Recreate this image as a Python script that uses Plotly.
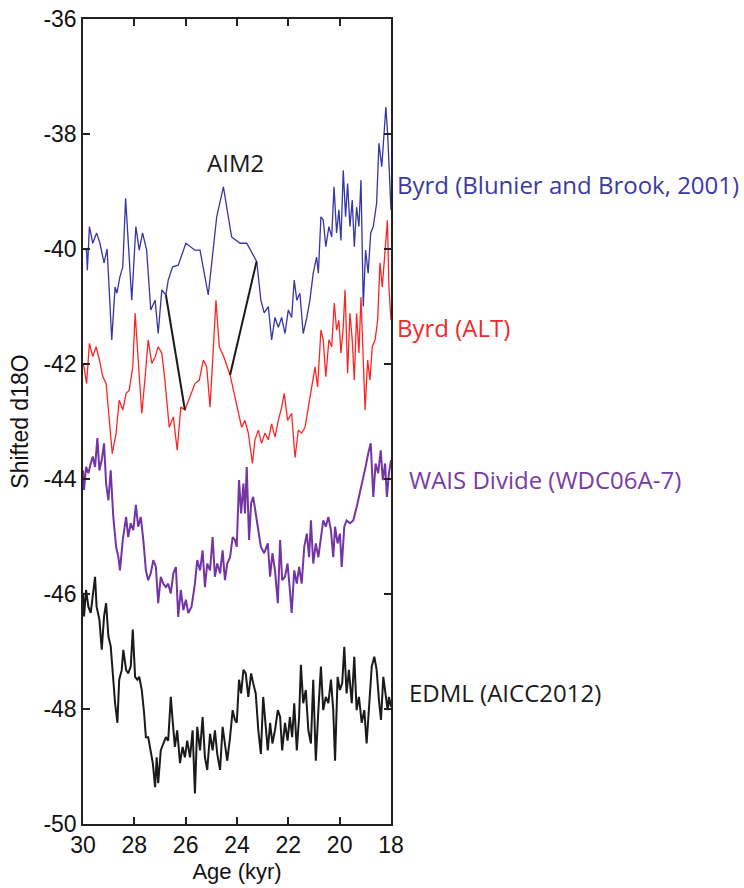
import plotly.graph_objects as go

# ---------------- data (age in kyr, shifted d18O) ----------------
blue_age = [30.00, 29.86, 29.83, 29.75, 29.62, 29.47, 29.34, 29.18, 29.06, 28.99, 28.88, 28.75, 28.68, 28.56,
            28.45, 28.34, 28.24, 28.10, 27.94, 27.81, 27.68, 27.52, 27.36, 27.19, 27.07, 26.93, 26.77, 26.68,
            26.51, 26.29, 25.99, 25.64, 25.44, 25.12, 24.79, 24.53, 24.21, 23.88, 23.62, 23.43, 23.23, 23.07,
            22.94, 22.78, 22.65, 22.52, 22.39, 22.26, 22.13, 22.00, 21.87, 21.77, 21.67, 21.55, 21.42, 21.28,
            21.16, 21.03, 20.90, 20.83, 20.73, 20.64, 20.54, 20.42, 20.31, 20.22, 20.12, 20.03, 19.95, 19.86,
            19.77, 19.69, 19.60, 19.51, 19.43, 19.34, 19.25, 19.17, 19.08, 18.99, 18.89, 18.79, 18.69, 18.56,
            18.47, 18.36, 18.27, 18.20, 18.13, 18.04, 18.00]
blue_val = [-40.0, -40.02, -40.37, -39.61, -39.9, -39.72, -39.9, -40.24, -40.0, -40.66, -41.58, -40.66, -40.77,
            -40.48, -40.31, -39.12, -39.9, -40.89, -39.61, -40.02, -39.72, -40.02, -41.06, -40.89, -41.47,
            -40.71, -40.8, -40.54, -40.31, -40.28, -39.9, -40.02, -40.02, -40.8, -39.44, -38.92, -39.79, -39.9,
            -39.9, -40.07, -40.22, -40.89, -41.11, -41.0, -41.58, -41.19, -41.36, -41.19, -41.47, -41.06,
            -41.19, -40.54, -40.89, -40.77, -41.47, -41.19, -40.89, -40.42, -40.14, -40.42, -39.44, -39.5,
            -39.96, -39.61, -39.79, -38.92, -39.72, -39.32, -39.85, -38.63, -39.44, -38.86, -39.61, -39.15,
            -39.96, -39.27, -39.61, -38.8, -41.0, -40.02, -40.42, -39.72, -39.61, -39.2, -38.16, -38.57,
            -37.88, -37.53, -38.0, -39.15, -39.32]

red_age = [30.00, 29.96, 29.86, 29.75, 29.62, 29.49, 29.36, 29.23, 29.10, 28.98, 28.86, 28.71, 28.59, 28.45,
           28.32, 28.20, 28.06, 27.97, 27.85, 27.71, 27.58, 27.46, 27.32, 27.19, 27.07, 26.93, 26.81, 26.64,
           26.48, 26.33, 26.19, 26.03, 25.83, 25.64, 25.47, 25.31, 25.18, 25.05, 24.92, 24.82, 24.69, 24.51,
           24.27, 24.08, 23.95, 23.82, 23.69, 23.56, 23.40, 23.30, 23.17, 23.04, 22.91, 22.78, 22.65, 22.52,
           22.39, 22.26, 22.16, 22.03, 21.87, 21.74, 21.61, 21.48, 21.35, 21.22, 21.09, 20.96, 20.86, 20.73,
           20.64, 20.54, 20.42, 20.31, 20.21, 20.12, 20.03, 19.95, 19.86, 19.79, 19.69, 19.60, 19.51, 19.43,
           19.34, 19.25, 19.17, 19.08, 19.01, 18.91, 18.82, 18.73, 18.62, 18.52, 18.43, 18.34, 18.23, 18.14,
           18.08, 18.00]
red_val = [-42.0, -42.05, -42.34, -41.64, -41.87, -41.7, -41.93, -42.22, -42.34, -42.98, -43.56, -43.2, -42.63,
           -42.8, -42.51, -42.46, -42.05, -41.12, -41.99, -42.86, -42.23, -41.58, -41.99, -41.88, -41.7, -41.81,
           -42.28, -43.1, -42.92, -43.5, -42.75, -42.8, -42.57, -42.34, -42.28, -41.93, -42.05, -42.75, -41.7,
           -40.89, -41.7, -41.88, -42.19, -42.6, -42.86, -43.1, -42.98, -43.2, -43.73, -43.32, -43.15, -43.38,
           -43.2, -43.32, -43.04, -43.27, -42.98, -42.75, -42.51, -42.98, -42.86, -43.63, -43.15, -43.2, -43.1,
           -42.75, -42.34, -42.05, -42.4, -41.41, -41.58, -42.22, -41.58, -41.7, -40.94, -41.41, -41.24,
           -41.81, -41.35, -40.71, -42.16, -41.12, -41.58, -42.28, -41.12, -41.81, -40.84, -41.93, -42.8,
           -41.93, -42.28, -41.7, -41.58, -41.24, -40.24, -40.66, -40.07, -39.5, -40.66, -41.24]

wais_age = [30.00, 29.96, 29.88, 29.79, 29.70, 29.62, 29.53, 29.44, 29.36, 29.27, 29.18, 29.10, 29.01, 28.92,
            28.82, 28.71, 28.62, 28.56, 28.45, 28.32, 28.24, 28.14, 28.04, 27.94, 27.85, 27.75, 27.65, 27.55,
            27.46, 27.36, 27.26, 27.16, 27.07, 26.97, 26.87, 26.77, 26.68, 26.58, 26.48, 26.38, 26.29, 26.19,
            26.09, 25.99, 25.90, 25.77, 25.64, 25.55, 25.44, 25.34, 25.25, 25.16, 25.05, 24.95, 24.86, 24.77,
            24.66, 24.56, 24.47, 24.38, 24.27, 24.17, 24.08, 24.01, 23.92, 23.84, 23.75, 23.69, 23.62, 23.53,
            23.45, 23.37, 23.27, 23.17, 23.07, 22.94, 22.80, 22.71, 22.62, 22.52, 22.41, 22.32, 22.24, 22.13,
            22.03, 21.94, 21.87, 21.77, 21.67, 21.58, 21.48, 21.38, 21.28, 21.19, 21.12, 21.03, 20.93, 20.83,
            20.73, 20.64, 20.54, 20.44, 20.34, 20.25, 20.18, 20.08, 19.99, 19.92, 19.82, 19.73, 19.60, 19.47,
            19.34, 19.21, 19.08, 18.99, 18.89, 18.79, 18.69, 18.60, 18.50, 18.40, 18.32, 18.23, 18.16, 18.08,
            18.00]
wais_val = [-43.85, -44.19, -43.79, -43.9, -43.73, -43.61, -43.79, -43.29, -43.85, -43.67, -43.38, -44.08,
            -44.37, -43.85, -44.66, -45.18, -45.36, -45.59, -45.06, -44.66, -45.01, -44.77, -44.89, -44.45,
            -44.83, -44.66, -45.06, -45.59, -45.76, -45.64, -45.41, -45.53, -46.16, -45.7, -45.82, -45.88,
            -45.82, -45.99, -45.64, -45.53, -46.4, -45.93, -46.28, -46.1, -46.33, -46.22, -45.82, -45.41,
            -45.59, -45.24, -45.88, -45.47, -45.59, -45.01, -45.7, -45.47, -45.64, -45.24, -45.76, -45.47,
            -45.36, -45.01, -45.06, -45.18, -44.02, -44.6, -44.08, -44.6, -43.79, -45.06, -44.42, -44.31,
            -44.6, -44.89, -45.18, -45.29, -45.12, -45.7, -45.29, -45.59, -46.16, -45.06, -45.76, -45.7,
            -45.47, -45.93, -46.33, -45.59, -45.82, -45.53, -45.82, -45.18, -44.95, -45.36, -44.72, -45.47,
            -45.12, -45.36, -45.06, -44.72, -44.83, -44.66, -44.89, -45.36, -44.83, -45.12, -44.95, -45.53,
            -44.83, -44.72, -44.77, -44.72, -44.49, -44.25, -43.97, -43.79, -43.56, -43.38, -44.31, -43.73,
            -43.9, -43.5, -44.02, -43.73, -44.31, -43.9, -43.67]

edml_age = [30.00, 29.96, 29.88, 29.79, 29.70, 29.62, 29.53, 29.47, 29.36, 29.27, 29.18, 29.10, 29.01, 28.92,
            28.82, 28.75, 28.66, 28.59, 28.49, 28.43, 28.32, 28.24, 28.14, 28.06, 27.97, 27.88, 27.81, 27.71,
            27.62, 27.55, 27.46, 27.36, 27.28, 27.19, 27.13, 27.07, 26.97, 26.87, 26.77, 26.68, 26.58, 26.51,
            26.42, 26.33, 26.22, 26.12, 26.03, 25.94, 25.83, 25.73, 25.64, 25.55, 25.44, 25.34, 25.25, 25.16,
            25.05, 24.95, 24.86, 24.77, 24.66, 24.56, 24.47, 24.38, 24.27, 24.17, 24.08, 24.01, 23.92, 23.84,
            23.75, 23.66, 23.56, 23.45, 23.37, 23.27, 23.17, 23.07, 22.98, 22.88, 22.80, 22.71, 22.62, 22.52,
            22.41, 22.32, 22.24, 22.13, 22.03, 21.94, 21.85, 21.77, 21.67, 21.58, 21.51, 21.42, 21.32, 21.22,
            21.12, 21.03, 20.93, 20.83, 20.73, 20.64, 20.54, 20.44, 20.34, 20.25, 20.18, 20.08, 19.99, 19.90,
            19.82, 19.73, 19.64, 19.53, 19.43, 19.34, 19.25, 19.14, 19.04, 18.95, 18.86, 18.75, 18.65, 18.56,
            18.47, 18.39, 18.30, 18.21, 18.13, 18.08, 18.00]
edml_val = [-45.98, -46.39, -45.93, -46.22, -46.33, -45.98, -45.7, -46.22, -46.45, -46.97, -46.39, -46.16,
            -46.74, -46.91, -47.61, -47.9, -48.24, -47.49, -47.32, -46.97, -47.32, -47.38, -47.26, -46.62,
            -47.44, -47.49, -47.44, -47.67, -48.07, -48.49, -48.49, -48.72, -48.94, -49.36, -48.84, -49.29,
            -48.72, -48.6, -48.49, -48.55, -47.79, -48.19, -48.66, -48.37, -48.94, -48.66, -48.84, -48.55,
            -48.84, -48.37, -49.47, -48.31, -48.72, -48.14, -48.84, -49.06, -48.43, -48.72, -48.37, -48.78,
            -49.06, -48.31, -48.66, -48.9, -48.49, -48.02, -48.19, -48.24, -47.49, -47.73, -47.32, -47.38,
            -47.79, -47.38, -47.55, -47.73, -48.37, -48.78, -47.79, -48.37, -48.72, -48.24, -48.6, -48.37,
            -48.02, -48.14, -48.72, -48.24, -48.55, -48.14, -48.49, -47.9, -48.72, -48.14, -47.23, -47.9,
            -47.67, -48.37, -48.6, -47.49, -48.9, -48.02, -47.26, -48.02, -47.79, -47.9, -47.49, -48.02,
            -48.9, -47.44, -47.67, -47.55, -46.92, -47.73, -47.32, -47.9, -47.09, -48.02, -47.79, -48.24,
            -48.02, -48.6, -47.9, -47.26, -47.09, -47.32, -47.84, -48.19, -47.44, -47.79, -48.02, -47.79,
            -47.96]

tie1_age = [26.77, 26.03]
tie1_val = [-40.8, -42.8]
tie2_age = [24.27, 23.24]
tie2_val = [-42.19, -40.22]

x_ticks = [30, 28, 26, 24, 22, 20, 18]
y_ticks = [-50, -48, -46, -44, -42, -40, -38, -36]

labels = [
    ("Byrd (Blunier and Brook, 2001)", 1.013, -38.87, "#3a3aa2"),
    ("Byrd (ALT)", 1.013, -41.36, "#ee2a2a"),
    ("WAIS Divide (WDC06A-7)", 1.052, -44.0, "#7a3aa6"),
    ("EDML (AICC2012)", 1.052, -47.72, "#1a1a1a"),
]

BLUE = "#3535a5"
RED = "#ff2424"
PURPLE = "#7434a6"
BLACK = "#1a1a1a"

fig = go.Figure()
fig.add_trace(go.Scatter(x=blue_age, y=blue_val, mode="lines", line=dict(color=BLUE, width=1.3)))
fig.add_trace(go.Scatter(x=red_age, y=red_val, mode="lines", line=dict(color=RED, width=1.3)))
fig.add_trace(go.Scatter(x=wais_age, y=wais_val, mode="lines", line=dict(color=PURPLE, width=2.0)))
fig.add_trace(go.Scatter(x=edml_age, y=edml_val, mode="lines", line=dict(color=BLACK, width=2.0)))
fig.add_trace(go.Scatter(x=tie1_age, y=tie1_val, mode="lines", line=dict(color=BLACK, width=2)))
fig.add_trace(go.Scatter(x=tie2_age, y=tie2_val, mode="lines", line=dict(color=BLACK, width=2)))

for txt, xp, yv, col in labels:
    fig.add_annotation(x=xp, y=yv, xref="paper", yref="y", text=txt, showarrow=False,
                       xanchor="left", yanchor="middle",
                       font=dict(family="Open Sans", size=24, color=col))

fig.add_annotation(x=24.04, y=-38.49, xref="x", yref="y", text="AIM2", showarrow=False,
                   xanchor="center", yanchor="middle",
                   font=dict(family="Open Sans", size=24, color="#1a1a1a"))

axis_common = dict(showline=True, linecolor="#222", linewidth=1.5, mirror="allticks",
                   ticks="inside", ticklen=7, tickwidth=1.5, tickcolor="#222",
                   showgrid=False, zeroline=False,
                   tickfont=dict(family="Liberation Sans", size=23, color="#111"))

fig.update_xaxes(range=[30, 18], tickvals=x_ticks, ticktext=[str(v) for v in x_ticks],
                 title=dict(text="Age (kyr)", font=dict(family="Liberation Sans", size=22, color="#111"),
                            standoff=6),
                 **axis_common)
fig.update_yaxes(range=[-50, -36], tickvals=y_ticks, ticktext=[str(v) for v in y_ticks],
                 title=dict(text="Shifted d18O", font=dict(family="Liberation Sans", size=23, color="#111"),
                            standoff=8),
                 **axis_common)

fig.update_layout(width=744, height=888, showlegend=False,
                  plot_bgcolor="white", paper_bgcolor="white",
                  margin=dict(l=83, r=353, t=19, b=64, autoexpand=False))

# remove the default 8 px page margin so the figure sits at the window's corner
fig.write_html("out.html", config={"displayModeBar": False},
               post_script="document.body.style.margin='0';")
